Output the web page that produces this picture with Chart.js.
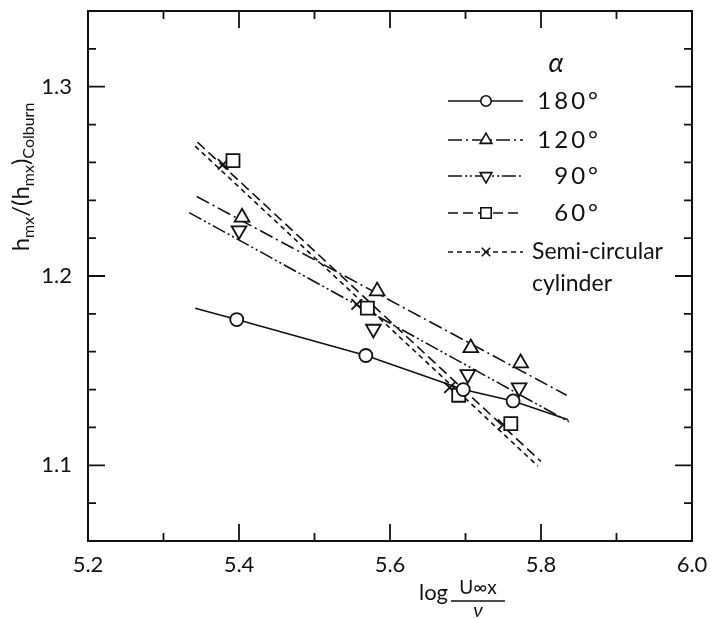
<!DOCTYPE html>
<html>
<head>
<meta charset="utf-8">
<script src="https://cdn.jsdelivr.net/npm/chart.js@4.4.1/dist/chart.umd.min.js"></script>
<style>
  html, body { margin: 0; background: #fff; }
  #wrap { width: 711px; height: 619px; }
</style>
</head>
<body>
<div id="wrap"><canvas id="c"></canvas></div>
<script>
// axis ticks
const xTicks = [5.2, 5.4, 5.6, 5.8, 6.0];
const xMinor = [5.3, 5.5, 5.7, 5.9];
const yTicks = [1.1, 1.2, 1.3];
const yMinor = [1.08, 1.12, 1.14, 1.16, 1.18, 1.22, 1.24, 1.26, 1.28, 1.32];

const seriesLabels = ["180°", "120°", "90°", "60°", "Semi-circular cylinder"];

// measured points (log Re, h/h_Colburn)
const x180 = [5.397, 5.568, 5.697, 5.763];
const y180 = [1.177, 1.158, 1.140, 1.134];
const x120 = [5.404, 5.583, 5.707, 5.773];
const y120 = [1.231, 1.192, 1.162, 1.154];
const x90 = [5.400, 5.578, 5.703, 5.771];
const y90 = [1.224, 1.172, 1.148, 1.141];
const x60 = [5.392, 5.570, 5.691, 5.760];
const y60 = [1.261, 1.183, 1.137, 1.122];
const xCyl = [5.379, 5.556, 5.679, 5.750];
const yCyl = [1.259, 1.185, 1.141, 1.1215];

// drawn curves
const line180X = [5.342, 5.397, 5.568, 5.697, 5.763, 5.836];
const line180Y = [1.183, 1.177, 1.158, 1.140, 1.134, 1.124];
const line120X = [5.344, 5.834];
const line120Y = [1.242, 1.137];
const line90X = [5.334, 5.837];
const line90Y = [1.2335, 1.123];
const line60X = [5.345, 5.800];
const line60Y = [1.2707, 1.102];
const lineCylX = [5.342, 5.796];
const lineCylY = [1.2686, 1.0995];

const INK = "#111";
const FONT = "Lato, 'Open Sans', sans-serif";

const styles = [
  { dash: [], point: "circle", r: 6.5, rot: 0 },
  { dash: [14, 4, 2, 4], point: "triangle", r: 8.5, rot: 0 },
  { dash: [14, 3, 2, 3, 2, 3], point: "triangle", r: 8.5, rot: 180 },
  { dash: [10, 5], point: "rect", r: 9.2, rot: 0 },
  { dash: [5, 4], point: "crossRot", r: 7.5, rot: 0 },
];

const pts = (xs, ys) => xs.map((v, i) => ({ x: v, y: ys[i] }));

const lines = [
  pts(line180X, line180Y), pts(line120X, line120Y), pts(line90X, line90Y),
  pts(line60X, line60Y), pts(lineCylX, lineCylY),
];
const marks = [
  pts(x180, y180), pts(x120, y120), pts(x90, y90), pts(x60, y60), pts(xCyl, yCyl),
];

const datasets = [];
lines.forEach((d, i) => datasets.push({
  label: seriesLabels[i] + " line",
  data: d,
  showLine: true,
  pointRadius: 0,
  borderColor: INK,
  borderWidth: 1.6,
  borderDash: styles[i].dash,
  tension: 0,
  fill: false,
  order: 2,
}));
marks.forEach((d, i) => datasets.push({
  label: seriesLabels[i],
  data: d,
  showLine: false,
  pointStyle: styles[i].point,
  pointRadius: styles[i].r,
  pointRotation: styles[i].rot,
  pointBackgroundColor: "#fff",
  pointBorderColor: INK,
  pointBorderWidth: 1.8,
  order: 1,
}));

// frame with inward ticks on all sides
const framePlugin = {
  id: "frame",
  afterDraw(chart) {
    const { ctx, chartArea: a, scales: { x, y } } = chart;
    ctx.save();
    ctx.strokeStyle = INK;
    ctx.lineWidth = 2;
    ctx.strokeRect(a.left, a.top, a.right - a.left, a.bottom - a.top);
    ctx.lineWidth = 1.8;
    const xt = (vals, len) => vals.forEach(v => {
      const p = x.getPixelForValue(v);
      ctx.beginPath();
      ctx.moveTo(p, a.bottom); ctx.lineTo(p, a.bottom - len);
      ctx.moveTo(p, a.top); ctx.lineTo(p, a.top + len);
      ctx.stroke();
    });
    const yt = (vals, len) => vals.forEach(v => {
      const p = y.getPixelForValue(v);
      ctx.beginPath();
      ctx.moveTo(a.left, p); ctx.lineTo(a.left + len, p);
      ctx.moveTo(a.right, p); ctx.lineTo(a.right - len, p);
      ctx.stroke();
    });
    xt(xTicks, 17); xt(xMinor, 8);
    yt(yTicks, 17); yt(yMinor, 8);
    ctx.restore();
  },
};

// axis titles: fraction on x, subscripts on y
const titlePlugin = {
  id: "titles",
  afterDraw(chart) {
    const ctx = chart.ctx;
    ctx.save();
    ctx.fillStyle = INK;
    ctx.strokeStyle = INK;

    ctx.textBaseline = "middle";
    ctx.textAlign = "left";
    ctx.font = `22px ${FONT}`;
    ctx.fillText("log", 419, 593);
    ctx.textAlign = "center";
    ctx.font = `19px ${FONT}`;
    ctx.fillText("U∞x", 478, 588);
    ctx.lineWidth = 1.5;
    ctx.beginPath();
    ctx.moveTo(451, 601); ctx.lineTo(505, 601);
    ctx.stroke();
    ctx.font = `italic 20px ${FONT}`;
    ctx.fillText("ν", 478, 611);

    const runs = [
      ["h", 24, 0], ["mx", 16, 5], ["/(h", 24, 0], ["mx", 16, 5], [")", 24, 0], ["Colburn", 16, 5],
    ];
    let total = 0;
    runs.forEach(r => { ctx.font = `${r[1]}px ${FONT}`; total += ctx.measureText(r[0]).width; });
    ctx.translate(21, 177);
    ctx.rotate(-Math.PI / 2);
    ctx.textAlign = "left";
    ctx.textBaseline = "alphabetic";
    let cx = -total / 2;
    runs.forEach(r => {
      ctx.font = `${r[1]}px ${FONT}`;
      ctx.fillText(r[0], cx, 8 + r[2]);
      cx += ctx.measureText(r[0]).width;
    });
    ctx.restore();
  },
};

// legend drawn inside the plot
const legendPlugin = {
  id: "alphaLegend",
  afterDraw(chart) {
    const ctx = chart.ctx;
    const rowY = [101, 140, 176, 213, 252];
    ctx.save();
    ctx.fillStyle = INK;
    ctx.strokeStyle = INK;
    ctx.textBaseline = "middle";
    ctx.font = `italic 27px ${FONT}`;
    ctx.textAlign = "center";
    ctx.fillText("α", 556, 63);

    seriesLabels.forEach((lab, i) => {
      const st = styles[i];
      const yy = rowY[i];
      ctx.lineWidth = 1.6;
      ctx.setLineDash(st.dash);
      ctx.beginPath();
      ctx.moveTo(448, yy); ctx.lineTo(523, yy);
      ctx.stroke();
      ctx.setLineDash([]);
      ctx.fillStyle = "#fff";
      Chart.helpers.drawPoint(ctx, {
        pointStyle: st.point, rotation: st.rot, radius: st.r * 0.8, borderWidth: 1.6,
      }, 486, yy);
      ctx.fillStyle = INK;
      if (i < 4) {
        ctx.font = `24px ${FONT}`;
        ctx.letterSpacing = "3px";
        ctx.textAlign = "right";
        ctx.fillText(lab, 601, yy);
        ctx.letterSpacing = "0px";
      } else {
        ctx.font = `23px ${FONT}`;
        ctx.textAlign = "left";
        const parts = lab.split(" ");
        ctx.fillText(parts[0], 532, yy);
        ctx.fillText(parts[1], 532, yy + 32);
      }
    });
    ctx.restore();
  },
};

const tickFont = { family: FONT, size: 22 };

new Chart(document.getElementById("c"), {
  type: "scatter",
  data: { datasets },
  options: {
    responsive: true,
    maintainAspectRatio: false,
    animation: false,
    layout: { padding: { top: 5, right: 19, left: 0, bottom: 0 } },
    plugins: { legend: { display: false }, tooltip: { enabled: false } },
    scales: {
      x: {
        type: "linear",
        min: 5.2,
        max: 6.0,
        afterBuildTicks: s => { s.ticks = xTicks.map(v => ({ value: v })); },
        afterFit: s => { s.height = 78; s.paddingLeft = 0; s.paddingRight = 0; },
        ticks: { callback: v => v.toFixed(1), font: tickFont, color: INK, padding: 11, maxRotation: 0, autoSkip: false },
        grid: { display: false, drawTicks: false },
        border: { display: false },
      },
      y: {
        type: "linear",
        min: 1.06,
        max: 1.34,
        afterBuildTicks: s => { s.ticks = yTicks.map(v => ({ value: v })); },
        afterFit: s => { s.width = 88; s.paddingTop = 0; s.paddingBottom = 0; },
        ticks: { callback: v => v.toFixed(1), font: tickFont, color: INK, padding: 16, autoSkip: false },
        grid: { display: false, drawTicks: false },
        border: { display: false },
      },
    },
  },
  plugins: [framePlugin, titlePlugin, legendPlugin],
});
</script>
</body>
</html>
